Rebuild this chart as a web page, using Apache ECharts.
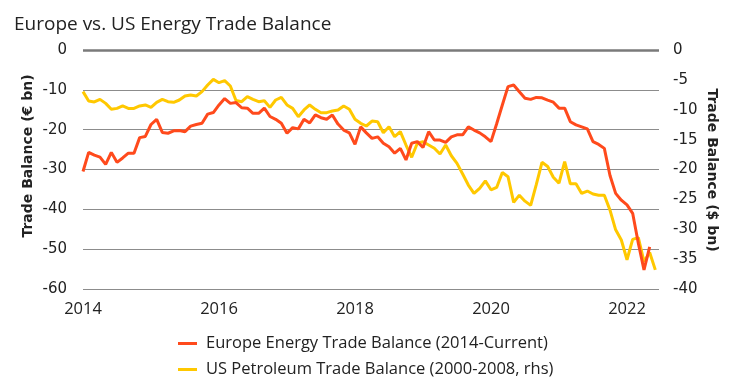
<!DOCTYPE html>
<html>
<head>
<meta charset="utf-8">
<script src="https://cdn.jsdelivr.net/npm/echarts@6/dist/echarts.min.js"></script>
<style>
html,body{margin:0;padding:0;background:#fff;}
#chart{width:740px;height:388px;}
</style>
</head>
<body>
<div id="chart"></div>
<script>
// Monthly data starting January 2014
const startYear = 2014;
const xTickYears = [2014, 2016, 2018, 2020, 2022];
const leftTicks = [0, -10, -20, -30, -40, -50, -60];
const rightTicks = [0, -5, -10, -15, -20, -25, -30, -35, -40];

// Europe Energy Trade Balance (€ bn), left axis
const europe = [
  -30.5, -25.7, -26.4, -26.9, -28.7, -25.7, -28.2, -27.1, -25.9, -25.9,
  -22.0, -21.7, -18.7, -17.4, -20.7, -20.9, -20.3, -20.2, -20.5, -19.1,
  -18.7, -18.4, -16.1, -15.7, -13.8, -12.2, -13.4, -13.2, -14.5, -14.6,
  -15.9, -15.9, -14.6, -16.7, -17.4, -18.4, -20.9, -19.5, -19.8, -17.4,
  -18.3, -16.3, -17.0, -17.4, -16.3, -18.6, -20.1, -20.8, -23.7, -19.3,
  -20.8, -22.2, -21.8, -23.4, -24.3, -25.9, -24.7, -27.6, -23.4, -23.0,
  -24.5, -20.5, -22.6, -22.6, -23.2, -21.8, -21.3, -21.3, -19.3, -20.1,
  -20.8, -21.8, -23.0, -18.5, -13.8, -9.2, -8.8, -10.5, -12.1, -12.4,
  -11.9, -12.0, -12.6, -13.1, -14.6, -14.6, -18.0, -18.8, -19.3, -19.8,
  -23.0, -23.7, -24.7, -31.5, -36.0, -37.7, -38.9, -41.0, -48.5, -55.2,
  -49.4
];

// US Petroleum Trade Balance ($ bn), right axis
const us = [
  -6.97, -8.54, -8.70, -8.26, -8.93, -9.93, -9.77, -9.37, -9.77, -9.77,
  -9.37, -9.20, -9.60, -8.76, -8.26, -8.65, -8.76, -8.37, -7.70, -7.53,
  -7.70, -6.97, -5.86, -4.91, -5.47, -5.13, -6.03, -8.45, -8.65, -7.81,
  -8.26, -8.65, -8.48, -9.60, -8.37, -7.92, -9.20, -9.77, -11.16, -10.04,
  -9.20, -9.93, -10.49, -10.49, -10.20, -10.04, -9.37, -9.93, -11.60, -12.27,
  -12.72, -11.90, -12.00, -13.84, -12.83, -14.50, -13.67, -15.90, -17.96, -15.60,
  -15.35, -15.90, -16.45, -17.40, -15.90, -17.70, -18.97, -20.75, -22.60, -24.00,
  -23.15, -21.90, -23.40, -23.00, -20.50, -21.20, -25.50, -24.30, -25.30, -26.00,
  -22.50, -18.80, -19.50, -21.30, -22.30, -18.70, -22.40, -22.40, -24.00, -23.60,
  -24.10, -24.30, -24.30, -26.80, -30.10, -31.80, -35.10, -31.70, -31.40, -35.40,
  -33.90, -36.80
];

const toXY = arr => arr.map((v, i) => [startYear + i / 12, v]);

const chart = echarts.init(document.getElementById('chart'), null, {renderer: 'canvas'});
const tickFont = 'DejaVu Sans';
const textFont = 'Open Sans';

chart.setOption({
  animation: false,
  backgroundColor: '#ffffff',
  title: {
    text: 'Europe vs. US Energy Trade Balance',
    left: 9, top: 10,
    textStyle: {fontFamily: textFont, fontSize: 19, fontWeight: 'normal', color: '#222'}
  },
  grid: {left: 83, right: 81, top: 50, bottom: 99, containLabel: false},
  legend: {
    orient: 'vertical',
    left: 173, top: 330,
    itemWidth: 19, itemHeight: 3,
    itemGap: 9,
    icon: 'rect',
    textStyle: {fontFamily: textFont, fontSize: 16.5, color: '#222', padding: [0,0,0,4]},
    data: ['Europe Energy Trade Balance (2014-Current)', 'US Petroleum Trade Balance (2000-2008, rhs)']
  },
  xAxis: {
    type: 'value',
    min: 2014,
    max: 2014 + 576 / 68,
    interval: 2,
    axisLine: {show: false},
    axisTick: {show: false},
    splitLine: {show: false},
    axisLabel: {
      showMaxLabel: false,
      margin: 12,
      fontFamily: textFont, fontSize: 16.5, color: '#222',
      formatter: v => (xTickYears.indexOf(Math.round(v)) >= 0 && Math.abs(v - Math.round(v)) < 1e-6) ? String(Math.round(v)) : ''
    }
  },
  yAxis: [
    {
      type: 'value', min: leftTicks[leftTicks.length - 1], max: leftTicks[0], interval: 10,
      position: 'left',
      axisLine: {show: false}, axisTick: {show: false},
      splitLine: {show: true, lineStyle: {color: '#8c8c8c', width: 1.2}},
      axisLabel: {margin: 16, fontFamily: tickFont, fontSize: 15, color: '#222'}
    },
    {
      type: 'value', min: rightTicks[rightTicks.length - 1], max: rightTicks[0], interval: 5,
      position: 'right',
      axisLine: {show: false}, axisTick: {show: false},
      splitLine: {show: false},
      axisLabel: {margin: 14, fontFamily: tickFont, fontSize: 15, color: '#222'}
    }
  ],
  graphic: [
    {
      type: 'text', x: 28, y: 156, rotation: Math.PI / 2,
      style: {text: 'Trade Balance (€ bn)', font: 'bold 14px "DejaVu Sans"', fill: '#222', align: 'center', verticalAlign: 'middle'}
    },
    {
      type: 'text', x: 712, y: 170, rotation: -Math.PI / 2,
      style: {text: 'Trade Balance ($ bn)', font: 'bold 14px "DejaVu Sans"', fill: '#222', align: 'center', verticalAlign: 'middle'}
    }
  ],
  series: [
    {
      name: 'Europe Energy Trade Balance (2014-Current)',
      type: 'line', yAxisIndex: 0, showSymbol: false, symbol: 'none',
      data: toXY(europe),
      lineStyle: {color: '#ff4a1c', width: 3},
      itemStyle: {color: '#ff4a1c'},
      z: 3,
      markLine: {
        silent: true, symbol: 'none', label: {show: false},
        lineStyle: {color: '#7a7a7a', width: 2.5, type: 'solid'},
        data: [{yAxis: 0}],
        z: 1
      }
    },
    {
      name: 'US Petroleum Trade Balance (2000-2008, rhs)',
      type: 'line', yAxisIndex: 1, showSymbol: false, symbol: 'none',
      data: toXY(us),
      lineStyle: {color: '#ffc800', width: 3},
      itemStyle: {color: '#ffc800'},
      z: 2
    }
  ]
});
</script>
</body>
</html>
